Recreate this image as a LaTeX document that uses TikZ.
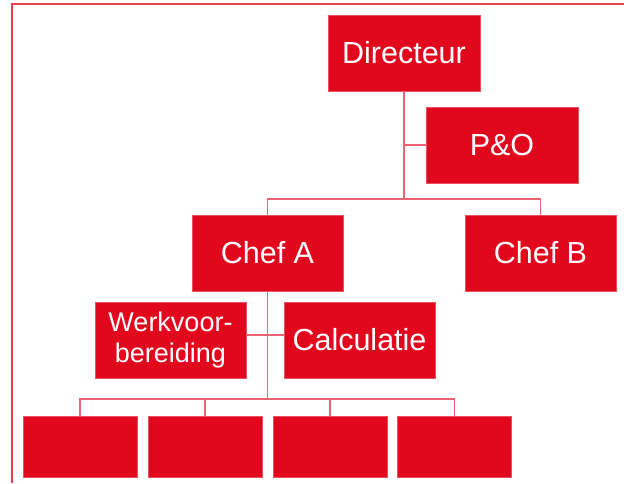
\documentclass[tikz,border=0pt]{standalone}
\usepackage{fontspec}
\setmainfont{Liberation Sans}
\definecolor{boxred}{HTML}{E1081E}
\definecolor{linered}{HTML}{EC6472}
\definecolor{framered}{HTML}{E8404F}
\begin{document}
\begin{tikzpicture}[x=1pt,y=-1pt,
  box/.style={fill=boxred,draw=boxred!70!white,line width=0.4pt,text=white,
    inner sep=0pt,anchor=center,align=center,font=\fontsize{30.5}{34}\selectfont},
  smallbox/.style={box,minimum width=114pt,minimum height=61pt},
  link/.style={draw=linered,line width=1.1pt}]
\useasboundingbox (0,0) rectangle (624,483);
\draw[framered,line width=1.4pt] (12,483) -- (12,4) -- (624,4);
% nodes
\node[box,minimum width=152pt,minimum height=76pt] (dir) at (404,53) {Directeur};
\node[box,minimum width=152pt,minimum height=76pt] (po) at (502,145) {P\&O};
\node[box,minimum width=151pt,minimum height=76pt] (chefA) at (267.5,253) {Chef A};
\node[box,minimum width=151pt,minimum height=76pt] (chefB) at (540.5,253) {Chef B};
\node[box,minimum width=151pt,minimum height=76pt,font=\fontsize{27}{31}\selectfont] (werk) at (170.5,340) {Werkvoor-\\bereiding};
\node[box,minimum width=151pt,minimum height=76pt] (calc) at (359.5,340) {Calculatie};
\node[smallbox] (b1) at (80,446.5) {};
\node[smallbox] (b2) at (205,446.5) {};
\node[smallbox] (b3) at (330,446.5) {};
\node[smallbox] (b4) at (454.5,446.5) {};
% junctions
\coordinate (jdir) at (404,199);
\coordinate (jpo) at (404,145);
\coordinate (jA) at (267.5,399);
\coordinate (jW) at (267.5,335);
% connectors
\path[link] (dir.south) -- (jdir);
\path[link] (jpo) -- (po.west);
\path[link] (chefA.north) -- (chefA.north |- jdir) -- (chefB.north |- jdir) -- (chefB.north);
\path[link] (chefA.south) -- (jA);
\path[link] (werk.east |- jW) -- (calc.west |- jW);
\path[link] (b1.north) -- (b1.north |- jA) -- (b4.north |- jA) -- (b4.north);
\path[link] (b2.north) -- (b2.north |- jA);
\path[link] (b3.north) -- (b3.north |- jA);
\end{tikzpicture}
\end{document}
